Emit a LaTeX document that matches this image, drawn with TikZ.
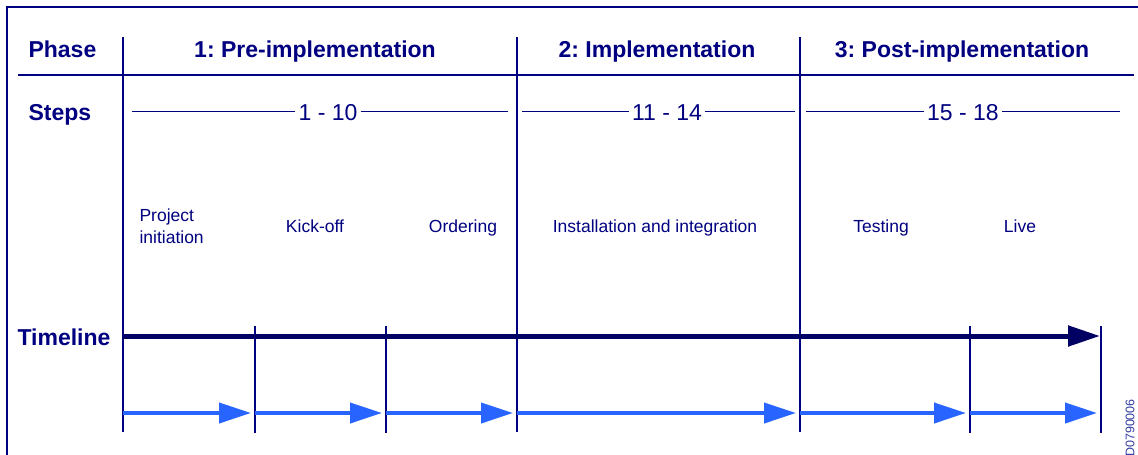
\documentclass[tikz,border=0pt]{standalone}
\usepackage{fontspec}
\setmainfont{Liberation Sans}
\frenchspacing
\usetikzlibrary{arrows.meta}
\definecolor{navy}{RGB}{0,0,128}
\definecolor{darknavy}{RGB}{0,0,100}
\definecolor{arrowblue}{RGB}{40,100,255}
\definecolor{codeblue}{RGB}{50,60,160}

\begin{document}
\begin{tikzpicture}[x=1pt, y=-1pt,
  phasehead/.style={text=navy, font=\fontsize{23}{27}\selectfont\bfseries, anchor=base},
  steprange/.style={text=navy, font=\fontsize{23}{27}\selectfont, anchor=base},
  stage/.style={text=navy, font=\fontsize{17.5}{21.5}\selectfont, align=left, anchor=base},
  gridline/.style={draw=navy, line width=1.4pt},
  steprule/.style={draw=navy, line width=1pt},
  timeline/.style={draw=darknavy, line width=5pt, -{Triangle[length=32pt,width=20pt]}},
  segment/.style={draw=arrowblue, line width=4pt, -{Triangle[length=32pt,width=20pt]}}]
\useasboundingbox (0,0) rectangle (1138,455);

% frame and header rule
\draw[gridline] (7,455) -- (7,7) -- (1138,7);
\draw[gridline] (18,75) -- (1134,75);

% phase and step separators
\foreach \x in {123,517,800}
  \draw[gridline] (\x,37) -- (\x,432);
\foreach \x in {255,386,970,1101}
  \draw[gridline] (\x,326) -- (\x,433);

\node [phasehead, anchor=base west] (phase) at (25,57) {Phase};
\node [phasehead] (pre) at (315,57) {1: Pre-implementation};
\node [phasehead] (impl) at (657,57) {2: Implementation};
\node [phasehead] (post) at (962,57) {3: Post-implementation};

\node [phasehead, anchor=base west] (steps) at (25,120) {Steps};
\foreach \name/\x/\a/\b/\txt in {r1/328/132/508/1 - 10, r2/667/522/795/11 - 14, r3/963/806/1120/15 - 18} {
  \node [steprange] (\name) at (\x,120) {\txt};
  \draw[steprule] (\a,111) -- (\name.west |- 0,111);
  \draw[steprule] (\name.east |- 0,111) -- (\b,111);
}

\node [stage, anchor=base west] (init) at (136,243) {Project\\initiation};
\node [stage] (kick) at (315,232) {Kick-off};
\node [stage] (order) at (463,232) {Ordering};
\node [stage] (install) at (655,232) {Installation and integration};
\node [stage] (test) at (881,232) {Testing};
\node [stage] (live) at (1020,232) {Live};

\node [phasehead, anchor=base west] (timeline) at (14,345) {Timeline};
\coordinate (begin) at (123,336);
\coordinate (finish) at (1100,336);
\draw[timeline] (begin) -- (finish);

\foreach \i/\x in {0/123,1/255,2/386,3/517,4/800,5/970,6/1101}
  \coordinate (t\i) at (\x,413);
\foreach \i/\j in {0/1,1/2,2/3,3/4,4/5,5/6}
  \draw[segment] (t\i) -- ([xshift=-4pt]t\j);

\node [rotate=90, text=codeblue, font=\fontsize{12.5}{14}\selectfont] (code) at (1130,428) {D0790006};
\end{tikzpicture}
\end{document}
